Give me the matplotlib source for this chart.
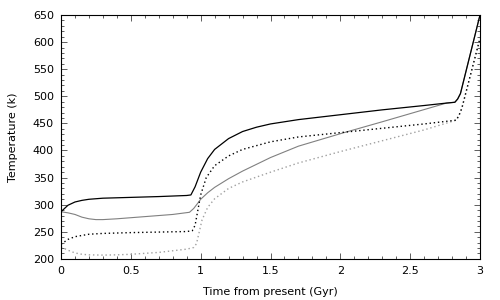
import matplotlib
matplotlib.use("Agg")
import matplotlib.pyplot as plt
from matplotlib.ticker import MultipleLocator

# Black solid curve
t_bs = [0, 0.05, 0.1, 0.15, 0.2, 0.3, 0.5, 0.7, 0.9, 0.93, 0.96, 1.0, 1.05, 1.1,
        1.2, 1.3, 1.4, 1.5, 1.7, 2.0, 2.3, 2.6, 2.76, 2.82, 2.84, 2.86, 3.0]
T_bs = [287, 299, 305, 308, 310, 312, 313.5, 315, 317, 318, 333, 360, 385, 402,
        422, 435, 443, 449, 457, 466, 475, 483, 487.5, 489, 495, 505, 650]

# Black dotted curve
t_bd = [0, 0.05, 0.1, 0.2, 0.3, 0.5, 0.7, 0.9, 0.94, 0.96, 0.98, 1.0, 1.04, 1.1,
        1.2, 1.3, 1.5, 1.7, 2.0, 2.3, 2.6, 2.83, 2.85, 2.87, 3.0]
T_bd = [227, 236, 241, 245.5, 247, 248.5, 249.5, 250.5, 252, 262, 290, 318, 350, 372,
        390, 402, 416, 425, 433, 441, 449, 456, 465, 478, 607]

# Grey solid curve (joins black solid near 2.76 Gyr)
t_gs = [0, 0.05, 0.1, 0.15, 0.2, 0.25, 0.3, 0.4, 0.6, 0.8, 0.92, 0.95, 0.98, 1.0,
        1.05, 1.1, 1.2, 1.3, 1.5, 1.7, 2.0, 2.3, 2.5, 2.76, 2.82, 2.84, 2.86, 3.0]
T_gs = [287, 285, 282, 277, 274, 272.5, 272.5, 274, 278, 282, 286, 293, 303, 310,
        322, 332, 348, 362, 387, 408, 431, 453, 468, 487.5, 489, 495, 505, 650]

# Grey dotted curve (joins black dotted near 2.83 Gyr)
t_gd = [0, 0.05, 0.1, 0.15, 0.2, 0.3, 0.4, 0.5, 0.7, 0.9, 0.95, 0.97, 0.99, 1.01,
        1.05, 1.1, 1.2, 1.3, 1.5, 1.7, 2.0, 2.3, 2.6, 2.83, 2.85, 2.87, 3.0]
T_gd = [222, 216, 211, 208.5, 207.5, 207, 207.5, 208.5, 212, 218, 221, 228, 250, 272,
        295, 311, 330, 342, 360, 377, 398, 418, 438, 456, 465, 478, 607]

x_ticks = [0, 0.5, 1, 1.5, 2, 2.5, 3]
x_labels = ["0", "0.5", "1", "1.5", "2", "2.5", "3"]
y_ticks = [200, 250, 300, 350, 400, 450, 500, 550, 600, 650]

fig = plt.figure(figsize=(5, 3), dpi=100)
ax = fig.add_axes([0.122, 0.137, 0.838, 0.813])

ax.plot(t_gd, T_gd, color="#a0a0a0", lw=1.0, ls=(0, (1, 2)))
ax.plot(t_gs, T_gs, color="#808080", lw=0.8, ls="-")
ax.plot(t_bd, T_bd, color="black", lw=1.0, ls=(0, (1, 2)))
ax.plot(t_bs, T_bs, color="black", lw=0.9, ls="-")

ax.set_xlim(0, 3)
ax.set_ylim(200, 650)
ax.set_xticks(x_ticks)
ax.set_xticklabels(x_labels)
ax.set_yticks(y_ticks)
ax.xaxis.set_minor_locator(MultipleLocator(0.1))
ax.yaxis.set_minor_locator(MultipleLocator(10))
ax.tick_params(which="both", direction="in", top=True, right=True, labelsize=8,
               width=0.6, color="#444444")
ax.tick_params(which="major", length=4, pad=5)
ax.tick_params(which="minor", length=2)
for s in ax.spines.values():
    s.set_linewidth(0.8)

ax.set_xlabel("Time from present (Gyr)", fontsize=8, labelpad=8)
ax.set_ylabel("Temperature (k)", fontsize=8, labelpad=11)

fig.savefig("out.png", dpi=100)
